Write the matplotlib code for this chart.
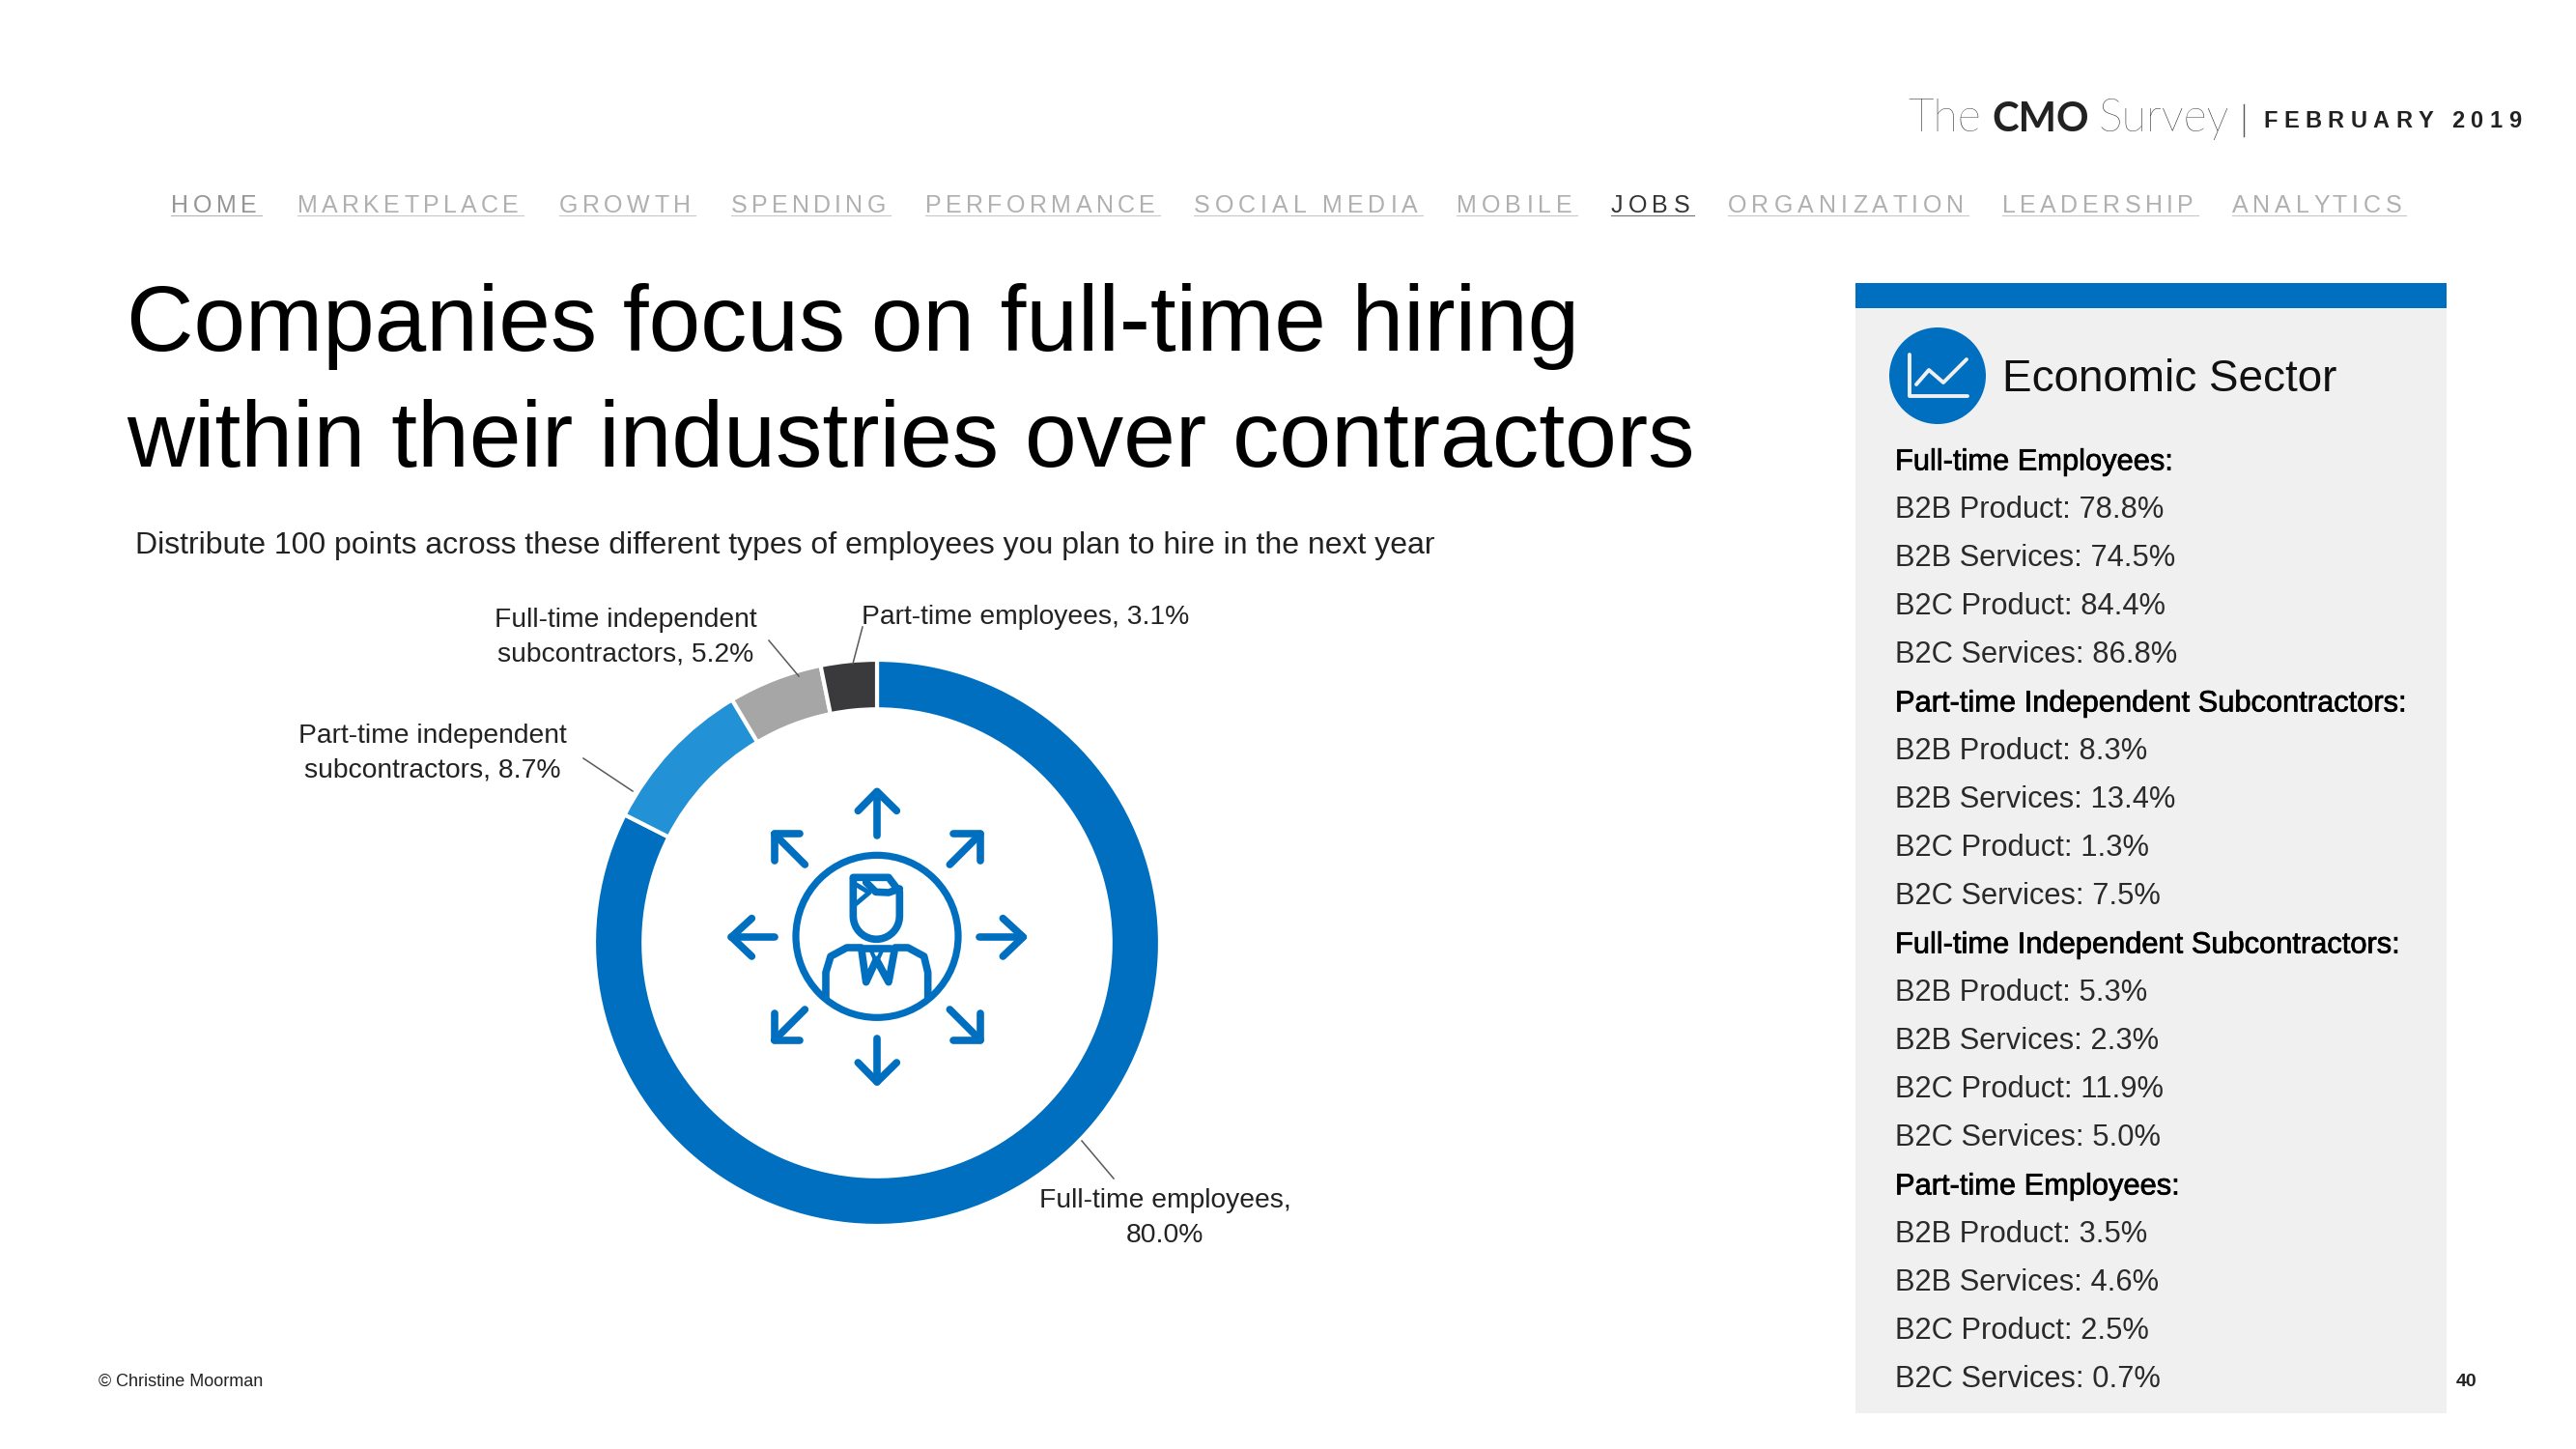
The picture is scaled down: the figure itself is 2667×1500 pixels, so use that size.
import numpy as np
import matplotlib
matplotlib.use("Agg")
import matplotlib.pyplot as plt
import matplotlib.patheffects as pe
from matplotlib.patches import Circle, Rectangle
from matplotlib.font_manager import FontProperties
from matplotlib.textpath import TextToPath

plt.rcParams["font.family"] = ["Liberation Sans", "DejaVu Sans"]

W, H = 2667, 1500
BLUE = "#006fc0"

# chart data
CATEGORIES = ["Full-time employees", "Part-time independent subcontractors",
              "Full-time independent subcontractors", "Part-time employees"]
VALUES = [80.0, 8.7, 5.2, 3.1]
COLORS = [BLUE, "#2391d5", "#a6a6a6", "#3a3a3c"]

# nav bar: label, left px, right px of the letters
NAV = ["HOME", "MARKETPLACE", "GROWTH", "SPENDING", "PERFORMANCE", "SOCIAL MEDIA",
       "MOBILE", "JOBS", "ORGANIZATION", "LEADERSHIP", "ANALYTICS"]
NAV_LEFT = [177, 308, 579, 757, 958, 1236, 1508, 1668, 1789, 2073, 2311]
NAV_RIGHT = [266, 537, 715, 917, 1196, 1468, 1628, 1749, 2033, 2271, 2486]

# side panel
PANEL_HEADS = ["Full-time Employees:", "Part-time Independent Subcontractors:",
               "Full-time Independent Subcontractors:", "Part-time Employees:"]
SECTORS = ["B2B Product", "B2B Services", "B2C Product", "B2C Services"]
FT_EMP = [78.8, 74.5, 84.4, 86.8]
PT_SUB = [8.3, 13.4, 1.3, 7.5]
FT_SUB = [5.3, 2.3, 11.9, 5.0]
PT_EMP = [3.5, 4.6, 2.5, 0.7]

ttp = TextToPath()


def spaced(ax, s, x0, x1, y, size, color, weight="normal"):
    # letter spacing by hand, matplotlib has no option for it
    prop = FontProperties(family="Liberation Sans", size=size, weight=weight)
    scale = 100 / 72
    total = ttp.get_text_width_height_descent(s, prop, False)[0] * scale
    gap = (x1 - x0 - total) / (len(s) - 1)
    for i, c in enumerate(s):
        w = ttp.get_text_width_height_descent(s[:i], prop, False)[0] * scale if i else 0
        ax.text(x0 + w + gap * i, y, c, fontproperties=prop, color=color, va="baseline", ha="left")


def icon_line(ax, pts, lw=5.5):
    # pts are in zoomed icon units
    xs = [700 + p[0] / 3 for p in pts]
    ys = [780 + p[1] / 3 for p in pts]
    ax.plot(xs, ys, color=BLUE, lw=lw, solid_capstyle="round", solid_joinstyle="round")


fig = plt.figure(figsize=(W / 100, H / 100), dpi=100, facecolor="white")

# donut
cx, cy, r = 908, 976, 293
pie_ax = fig.add_axes([(cx - r) / W, 1 - (cy + r) / H, 2 * r / W, 2 * r / H])
pie_ax.pie(VALUES, colors=COLORS, startangle=90, counterclock=False, radius=1,
           wedgeprops=dict(width=0.175, edgecolor="white", linewidth=3))
pie_ax.set_xlim(-1, 1)
pie_ax.set_ylim(-1, 1)

ax = fig.add_axes([0, 0, 1, 1])
ax.set_xlim(0, W)
ax.set_ylim(H, 0)
ax.axis("off")

# header
ax.text(1975, 136, "The", fontsize=33.5, family="Lato", fontweight="light", color="#222222")
ax.text(2062, 136, "CMO", fontsize=30, family="Lato", fontweight="bold", color="#222222")
ax.text(2172, 136, "Survey", fontsize=33.5, family="Lato", fontweight="light", color="#222222")
ax.plot([2323, 2323], [108, 141], color="#555555", lw=1)
spaced(ax, "FEBRUARY 2019", 2343, 2610, 132, 17, "#222222", "bold")

# nav
for name, x0, x1 in zip(NAV, NAV_LEFT, NAV_RIGHT):
    col = "#b0b0b0"
    if name == "HOME":
        col = "#959595"
    if name == "JOBS":
        col = "#333333"
    spaced(ax, name, x0, x1, 220, 18, col)
    ax.plot([x0, x1 + 5], [222.5, 222.5], color=col, lw=0.8, alpha=0.7)

# title
ax.text(131, 363, "Companies focus on full-time hiring", fontsize=69.3, color="black")
ax.text(131, 483, "within their industries over contractors", fontsize=69.7, color="black")
ax.text(140, 573, "Distribute 100 points across these different types of employees you plan to hire in the next year",
        fontsize=23, color="#222222")

# leader lines
for xs, ys in [([893, 883], [649, 687]), ([796, 827], [663, 700]),
               ([604, 655], [785, 819]), ([1120, 1153], [1181, 1220])]:
    ax.plot(xs, ys, color="#595959", lw=1.1)

# pie labels
lab = dict(fontsize=20.3, color="#222222", ha="center", va="baseline")
ax.text(1062, 646, f"{CATEGORIES[3]}, {VALUES[3]}%", **lab)
ax.text(648, 649, "Full-time independent", **lab)
ax.text(648, 685, f"subcontractors, {VALUES[2]}%", **lab)
ax.text(448, 769, "Part-time independent", **lab)
ax.text(448, 805, f"subcontractors, {VALUES[1]}%", **lab)
ax.text(1206, 1250, "Full-time employees,", **lab)
ax.text(1206, 1286, f"{VALUES[0]:.1f}%", **lab)

# person icon in the middle of the donut
ax.add_patch(Circle((700 + 624 / 3, 780 + 568 / 3), 84, fill=False, ec=BLUE, lw=5.2))
for shaft, head in [
    ([(624, 255), (624, 120)], [(565, 178), (624, 118), (685, 178)]),
    ([(624, 885), (624, 1020)], [(565, 960), (624, 1020), (685, 960)]),
    ([(305, 570), (172, 570)], [(235, 512), (172, 570), (235, 630)]),
    ([(942, 570), (1078, 570)], [(1015, 512), (1078, 570), (1015, 630)]),
    ([(400, 345), (305, 250)], [(385, 250), (305, 250), (305, 332)]),
    ([(850, 345), (945, 250)], [(862, 250), (945, 250), (945, 332)]),
    ([(400, 795), (305, 890)], [(305, 808), (305, 890), (385, 890)]),
    ([(850, 795), (945, 890)], [(945, 808), (945, 890), (862, 890)]),
]:
    icon_line(ax, shaft)
    icon_line(ax, head)

t = np.linspace(0, np.pi, 20)
head_pts = [(550, 390), (550, 505)] + [(622 - 72 * np.cos(a), 505 + 72 * np.sin(a)) for a in t] + \
           [(694, 505), (694, 430), (660, 385), (550, 385)]
icon_line(ax, head_pts)
icon_line(ax, [(590, 400), (620, 430), (660, 432), (694, 420)])
icon_line(ax, [(555, 470), (600, 432), (555, 405)], lw=3.5)
icon_line(ax, [(465, 760), (465, 680), (480, 630), (530, 603), (575, 603), (590, 710),
               (622, 640), (660, 710), (680, 603), (720, 603), (770, 630), (782, 680), (782, 760)])
icon_line(ax, [(585, 605), (665, 605)])
icon_line(ax, [(605, 610), (622, 650), (640, 610)], lw=3)

# side panel
ax.add_patch(Rectangle((1921, 319), 612, 1144, fc="#f0f0f0", ec="none"))
ax.add_patch(Rectangle((1921, 293), 612, 26, fc=BLUE, ec="none"))
ax.add_patch(Circle((2006, 389), 50, fc=BLUE, ec="none", zorder=3))
ax.plot([1977, 1977, 2037], [367, 410, 410], color="#f0f0f0", lw=2.8, zorder=4,
        solid_capstyle="round", solid_joinstyle="round")
ax.plot([1984, 1997, 2012, 2036], [398, 383, 396, 372], color="#f0f0f0", lw=2.8, zorder=4,
        solid_capstyle="round")
ax.text(2073, 405, "Economic Sector", fontsize=33, color="#111111")

rows = []
for head, vals in zip(PANEL_HEADS, [FT_EMP, PT_SUB, FT_SUB, PT_EMP]):
    rows.append((head, True))
    rows += [(f"{s}: {v:.1f}%", False) for s, v in zip(SECTORS, vals)]
y0, dy = 486.5, 50.0
for i, (txt, is_head) in enumerate(rows):
    tx = ax.text(1962, y0 + i * dy, txt, fontsize=22.2, color="#000000" if is_head else "#2a2a2a")
    if is_head:
        tx.set_path_effects([pe.withStroke(linewidth=0.5, foreground="black")])

# footer
ax.text(102, 1435, "© Christine Moorman", fontsize=13, color="#222222")
ax.text(2554, 1435, "40", fontsize=14, fontweight="bold", color="#222222", ha="center")

fig.savefig("out.png", dpi=100)
